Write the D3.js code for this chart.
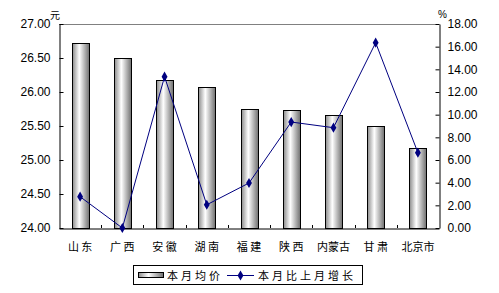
<!DOCTYPE html>
<html>
<head>
<meta charset="utf-8">
<script src="https://cdn.jsdelivr.net/npm/d3@7"></script>
<style>
  body { margin: 0; background: #fff; }
  text { fill: #000; }
</style>
</head>
<body>
<svg id="chart" width="499" height="293"></svg>
<script>
var provinces = ["山 东", "广 西", "安 徽", "湖 南", "福 建", "陕 西", "内蒙古", "甘 肃", "北京市"];
var avgPrice = [26.72, 26.50, 26.18, 26.07, 25.75, 25.73, 25.66, 25.50, 25.18];
var monthGrowth = [2.76, 0.00, 13.35, 2.05, 3.97, 9.35, 8.85, 16.35, 6.65];
var leftTicks = [24.0, 24.5, 25.0, 25.5, 26.0, 26.5, 27.0];
var rightTicks = [0, 2, 4, 6, 8, 10, 12, 14, 16, 18];

var svg = d3.select("#chart");
var plot = { left: 59, right: 439, top: 24, bottom: 228 };
var numFont = "'Liberation Sans', Arial, sans-serif";
var cjkFont = "'Noto Sans CJK SC', sans-serif";

var x = d3.scaleBand().domain(provinces).range([plot.left, plot.right]);
var yL = d3.scaleLinear().domain([24, 27]).range([plot.bottom, plot.top]);
var yR = d3.scaleLinear().domain([0, 18]).range([plot.bottom, plot.top]);

// bar gradient
var grad = svg.append("defs").append("linearGradient").attr("id", "barGrad");
grad.append("stop").attr("offset", "0%").attr("stop-color", "#8c8c8c");
grad.append("stop").attr("offset", "40%").attr("stop-color", "#ffffff");
grad.append("stop").attr("offset", "100%").attr("stop-color", "#6e6e6e");

// top border of plot
svg.append("line")
  .attr("x1", plot.left).attr("x2", plot.right)
  .attr("y1", plot.top + 0.5).attr("y2", plot.top + 0.5)
  .attr("stroke", "#808080");

// bars
var barW = 17;
svg.selectAll("rect.bar").data(provinces).enter().append("rect")
  .attr("class", "bar")
  .attr("x", function (d) { return Math.round(x(d) + x.bandwidth() / 2 - barW / 2) + 0.5; })
  .attr("y", function (d, i) { return Math.round(yL(avgPrice[i])) + 0.5; })
  .attr("width", barW)
  .attr("height", function (d, i) { return plot.bottom - Math.round(yL(avgPrice[i])); })
  .attr("fill", "url(#barGrad)")
  .attr("stroke", "#000")
  .attr("stroke-width", 1);

// axes
var left = svg.append("g").attr("transform", "translate(" + (plot.left + 0.5) + ",0)")
  .call(d3.axisLeft(yL).tickValues(leftTicks).tickSizeInner(-4).tickSizeOuter(0)
    .tickPadding(9).tickFormat(d3.format(".2f")));
var right = svg.append("g").attr("transform", "translate(" + (plot.right + 0.5) + ",0)")
  .call(d3.axisRight(yR).tickValues(rightTicks).tickSizeInner(-4).tickSizeOuter(0)
    .tickPadding(8).tickFormat(d3.format(".2f")));
var bottom = svg.append("g").attr("transform", "translate(0," + (plot.bottom + 0.5) + ")")
  .call(d3.axisBottom(x).tickSize(0).tickPadding(15));

[left, right].forEach(function (g) {
  g.select(".domain").attr("stroke", "#000");
  g.selectAll("line").attr("stroke", "#000");
  g.selectAll("text").style("font-family", numFont).style("font-size", "12px");
});
bottom.select(".domain").attr("stroke", "#000");
bottom.selectAll("text").style("font-family", cjkFont).style("font-size", "11px");

// category separators on the x axis
svg.selectAll("line.sep").data(provinces.slice(1)).enter().append("line")
  .attr("class", "sep")
  .attr("x1", function (d) { return Math.round(x(d)) + 0.5; })
  .attr("x2", function (d) { return Math.round(x(d)) + 0.5; })
  .attr("y1", plot.bottom).attr("y2", plot.bottom - 3)
  .attr("stroke", "#000");

// unit labels
svg.append("text").attr("x", 50).attr("y", 19).text("元")
  .style("font-family", cjkFont).style("font-size", "10px");
svg.append("text").attr("x", 438).attr("y", 18).text("%")
  .style("font-family", numFont).style("font-size", "10px");

// growth line
var line = d3.line()
  .x(function (d, i) { return x(provinces[i]) + x.bandwidth() / 2; })
  .y(function (d) { return yR(d); });
svg.append("path").datum(monthGrowth)
  .attr("d", line).attr("fill", "none").attr("stroke", "#000080").attr("stroke-width", 1);
var diamond = d3.symbol().type(d3.symbolDiamond).size(30);
svg.selectAll("path.pt").data(monthGrowth).enter().append("path")
  .attr("class", "pt")
  .attr("d", diamond)
  .attr("transform", function (d, i) {
    return "translate(" + (x(provinces[i]) + x.bandwidth() / 2) + "," + yR(d) + ")";
  })
  .attr("fill", "#000080");

// legend
var lg = svg.append("g");
lg.append("rect").attr("x", 133.5).attr("y", 265.5).attr("width", 229).attr("height", 19)
  .attr("fill", "#fff").attr("stroke", "#000");
lg.append("rect").attr("x", 138.5).attr("y", 272.5).attr("width", 25).attr("height", 5)
  .attr("fill", "url(#barGrad)").attr("stroke", "#000");
lg.append("text").attr("x", 167).attr("y", 279.5).text("本月均价")
  .style("font-family", cjkFont).style("font-size", "11px").style("letter-spacing", "3px");
lg.append("line").attr("x1", 227).attr("x2", 254).attr("y1", 275.5).attr("y2", 275.5)
  .attr("stroke", "#000080");
lg.append("path").attr("d", diamond).attr("transform", "translate(240.5,275.5)").attr("fill", "#000080");
lg.append("text").attr("x", 258).attr("y", 279.5).text("本月比上月增长")
  .style("font-family", cjkFont).style("font-size", "11px").style("letter-spacing", "3px");
</script>
</body>
</html>
